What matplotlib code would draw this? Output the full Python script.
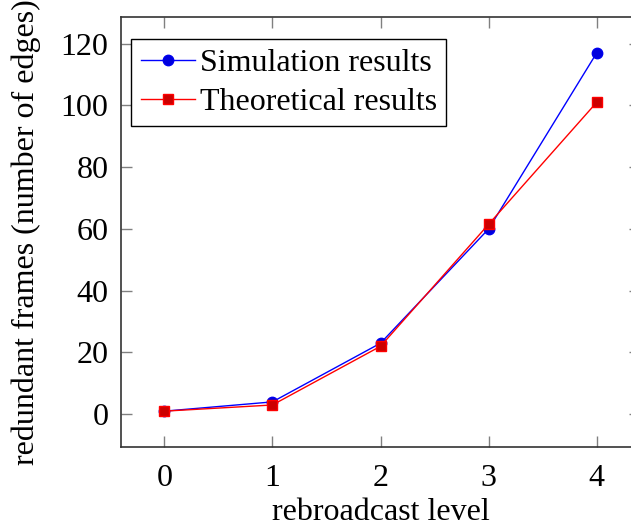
import matplotlib
matplotlib.use("Agg")
import matplotlib.pyplot as plt

# data
levels = [0, 1, 2, 3, 4]
simulation = [1, 4, 23, 60, 117]
theoretical = [1, 3, 22, 61.5, 101]

plt.rcParams['font.family'] = ['Liberation Serif', 'DejaVu Serif']

fig = plt.figure(figsize=(6.31, 5.31), dpi=100)
ax = fig.add_axes([121 / 631, 84 / 531, 519 / 631, 430 / 531])

ax.plot(levels, simulation, color='blue', linewidth=1.0, marker='o',
        markersize=7.5, markerfacecolor='#0000dd', markeredgecolor='#0000ee',
        label='Simulation results')
ax.plot(levels, theoretical, color='red', linewidth=1.0, marker='s',
        markersize=7.5, markerfacecolor='#cc0000', markeredgecolor='#ff0000',
        label='Theoretical results')

ax.set_xlim(-0.4, 4.4)
ax.set_ylim(-10.6, 128.6)
ax.set_xticks(levels)
ax.set_yticks([0, 20, 40, 60, 80, 100, 120])

ax.tick_params(direction='in', length=8, width=1.0, color='#808080',
               labelsize=23, top=True, right=True)
ax.tick_params(axis='y', pad=9)
ax.tick_params(axis='x', pad=12)
for s in ax.spines.values():
    s.set_color('#333333')
    s.set_linewidth(1.2)

ax.set_xlabel('rebroadcast level', fontsize=23, labelpad=4)
ax.set_ylabel('redundant frames (number of edges)', fontsize=23, labelpad=14)

leg = ax.legend(loc='upper left', bbox_to_anchor=(131 / 631, 1 - 39 / 531),
                bbox_transform=fig.transFigure, fontsize=23, frameon=True,
                fancybox=False, edgecolor='black', framealpha=1,
                borderpad=0.3, handlelength=1.7, handletextpad=0.15,
                labelspacing=0.3, borderaxespad=0)
leg.get_frame().set_linewidth(1.0)

fig.savefig('out.png', dpi=100)
